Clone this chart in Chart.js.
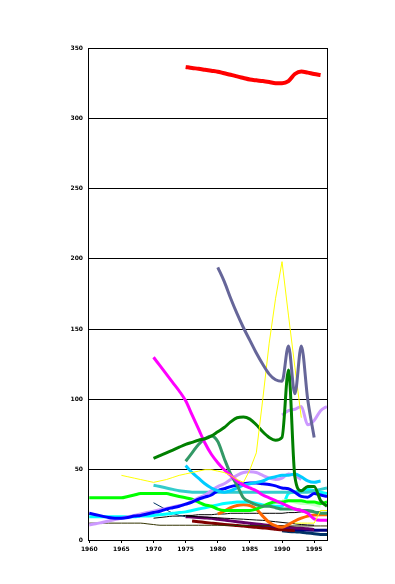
<!DOCTYPE html>
<html>
<head>
<meta charset="utf-8">
<script src="https://cdn.jsdelivr.net/npm/chart.js@4.4.0/dist/chart.umd.min.js"></script>
<style>
html, body { margin: 0; padding: 0; background: #fff; }
canvas { display: block; }
</style>
</head>
<body>
<canvas id="grafico" width="395" height="584"></canvas>
<script>
// years on the x axis and the labelled ticks
var years = [1960,1961,1962,1963,1964,1965,1966,1967,1968,1969,
             1970,1971,1972,1973,1974,1975,1976,1977,1978,1979,
             1980,1981,1982,1983,1984,1985,1986,1987,1988,1989,
             1990,1991,1992,1993,1994,1995,1996,1997];
var tickYears = [1960,1965,1970,1975,1980,1985,1990,1995];

// series values, each starts at the year given in the dataset list below
var red = [336.5,335.8,335.2,334.5,333.8,333.1,332,331,329.8,328.7,327.6,327,326.5,325.8,325,325,326.5,331.5,333.3,332.5,331.5,330.8];
var slate = [194,184,172,161,151,142,133,125,118,114,113,138,104,138,100,73];
var yellow = [46,45,44,43,42,41,42,43,44.5,46,47,48,49,50,50,49,48,46,43,41,50,62,100,140,172,198,160,123,87];
var yellowLow = [12,12,12,12,21,21];
var darkGreen = [58,60,62,64,66,68,69.5,71,72,74,77,80,84,87,87.5,86,82,77,73,71,73,121,45,35,38,38,28,24];
var magenta = [130,124,118,112,106,99,89,79,69,61,55,50,46,42,39,37,35,32,30,28,26,24,22,21,19,15,14,14];
var seaGreen = [56,62,68,72,74,70,58,47,39,30,27,25,24,24,23,22,22,22,21,21,20,19,19];
var skyBlue = [53,48,44,40,37,35,34,35,37,39,40,41,42,44,45,46,46,47,45,42,41,42];
var lavender = [10.7,11.5,12.5,13.5,14.5,15.4,16.5,17.5,18.5,19.5,20.5,21.5,22.5,23.5,24.5,25.5,27.5,30,32,35,38,40,43,46,48,48.5,48,46,44,43,44,47,46,43];
var lavenderHigh = [89,92,93,95,82,85,92,95];
var blue = [19,18,17,16,15.5,15.5,16,17,17.5,18.5,19.5,20.5,22,23,24,25.5,27,29,30.5,32,35,36.5,38,39,40,40.5,40.5,40,39.5,38.5,37,36.5,34,31,30.5,33,32,31];
var lime = [30,30,30,30,30,30,31,32,33,33,33,33,33,32,31,30,29,27,25,24,22,21,21,21,21,21,22,24,26,27,27,28,28,28,27,27,26,27];
var teal = [39,38,37,36,35,34.5,34,34,34,34,34,34,34,34,34,34,34,34,34,34,34,34,34,34,34,35,36,37];
var cyan = [16.5,16.5,16.5,16.5,16.5,16.5,16.5,16.5,17,17,17.5,18,18.5,19,19.5,20,21,22,23,24,25,26,26.5,27,27,27,26,25,24.5,24,24,33,34,35,36,35,34,33];
var mint = [28,28,27,26,26,25,24];
var orange = [18.5,20.5,23,24.5,25,24.5,22,17,12.5,10,9,11,13.5,15.5,17,17.8,18,18];
var olive = [12,12,12,12,12,12,12,12,12,11.5,11,10.5,10.5,10.5,10.5,10.5,10.5,10.5,10.5,10.5,10.5,10.4,10.4,10.3,10.3,10.3,10.2,10.2,10.2,10.1,10.1,10,10,10,10,10,10,10];
var navyThin = [26.5,24,21.5,19,17.5,16.5];
var blackHigh = [15.5,16,16.5,17,17,17.5,17.5,18,18,18,18.5,18.5,19,19,19,19,19,19,19,19,19,19.5,19.5,20,20,20,20];
var blackLow = [17,16.8,16.5,16.3,16,15.8,15.5,15.3,15,14.8,14.5,14.2,14,13.5,13,12.5,12,11.5,11,10.7,10.5];
var purple = [16.6,16.3,16,15.7,15.4,14.8,14.2,13.6,13,12.4,11.9,11.4,10.9,10.4,9.8,9.4,9,8.6,8.3,8,7.5];
var maroon = [13.5,13,12.5,12,11.5,11,10.7,10.3,10,9.5,9,8.6,8.2,7.7,7.2,7,6.8];
var navy = [10.5,10,9.5,9,8.5,8,7.8,7.5,7.3,7.1,7,7,7];
var darkTeal = [6.5,6,5.9,5.5,5,4.5,4,4];

function pad(start, values){
    var out = [];
    for (var i = 0; i < years.length; i++) {
        var k = years[i] - start;
        out.push(k >= 0 && k < values.length ? values[k] : null);
    }
    return out;
}

function createDataSet(values, start, color, width, straight){
    return {
        data: pad(start, values),
        borderColor: color,
        borderWidth: width,
        pointRadius: 0,
        fill: false,
        spanGaps: false,
        tension: straight ? 0 : 0.4,
        cubicInterpolationMode: straight ? 'default' : 'monotone'
    };
}

var datasets = [
    createDataSet(red, 1975, '#ff0000', 4),
    createDataSet(slate, 1980, '#666699', 3),
    createDataSet(yellow, 1965, '#ffff00', 1, true),
    createDataSet(yellowLow, 1992, '#ffff00', 1, true),
    createDataSet(darkGreen, 1970, '#008000', 3),
    createDataSet(magenta, 1970, '#ff00ff', 3),
    createDataSet(seaGreen, 1975, '#339966', 3),
    createDataSet(lavenderHigh, 1990, '#cc99ff', 3),
    createDataSet(skyBlue, 1975, '#00ccff', 3),
    createDataSet(blue, 1960, '#0000ff', 3),
    createDataSet(lavender, 1960, '#cc99ff', 3),
    createDataSet(teal, 1970, '#33cccc', 3),
    createDataSet(lime, 1960, '#00ff00', 3),
    createDataSet(mint, 1990, '#ccffcc', 3),
    createDataSet(cyan, 1960, '#00ffff', 3),
    createDataSet(orange, 1980, '#ff6600', 3),
    createDataSet(navyThin, 1970, '#003366', 1),
    createDataSet(blackHigh, 1970, '#000000', 1),
    createDataSet(blackLow, 1975, '#000000', 1),
    createDataSet(olive, 1960, '#333300', 1),
    createDataSet(purple, 1975, '#660066', 3),
    createDataSet(maroon, 1976, '#800000', 3),
    createDataSet(navy, 1985, '#000080', 3),
    createDataSet(darkTeal, 1990, '#003366', 3)
];

// right edge of the plot box
var boxPlugin = {
    id: 'box',
    afterDatasetsDraw: function(chart){
        var a = chart.chartArea;
        var ctx = chart.ctx;
        ctx.save();
        ctx.strokeStyle = '#000';
        ctx.lineWidth = 1;
        ctx.beginPath();
        ctx.moveTo(Math.round(a.right) + 0.5, a.top);
        ctx.lineTo(Math.round(a.right) + 0.5, a.bottom);
        ctx.stroke();
        ctx.restore();
    }
};

var tickFont = { family: 'DejaVu Sans', size: 6, weight: 'bold' };

var ctx = document.getElementById('grafico').getContext('2d');
var chart = new Chart(ctx, {
    type: 'line',
    data: { labels: years, datasets: datasets },
    plugins: [boxPlugin],
    options: {
        responsive: false,
        animation: false,
        devicePixelRatio: 1,
        layout: { padding: { top: 48, right: 68, left: 0, bottom: 0 } },
        plugins: { legend: { display: false }, tooltip: { enabled: false } },
        scales: {
            x: {
                type: 'linear',
                min: 1959.8,
                max: 1997,
                afterBuildTicks: function(scale){
                    scale.ticks = tickYears.map(function(v){ return { value: v }; });
                },
                afterFit: function(scale){ scale.height = 44; },
                grid: { drawOnChartArea: false, color: '#000', tickLength: 3 },
                border: { color: '#000', width: 1 },
                ticks: {
                    color: '#000', font: tickFont, padding: 3, maxRotation: 0,
                    autoSkip: false,
                    callback: function(v){ return String(v); }
                }
            },
            y: {
                min: 0,
                max: 350,
                afterFit: function(scale){ scale.width = 88; },
                grid: { color: '#000', lineWidth: 1, drawTicks: false },
                border: { color: '#000', width: 1 },
                ticks: { stepSize: 50, color: '#000', font: tickFont, padding: 5 }
            }
        }
    }
});
</script>
</body>
</html>
